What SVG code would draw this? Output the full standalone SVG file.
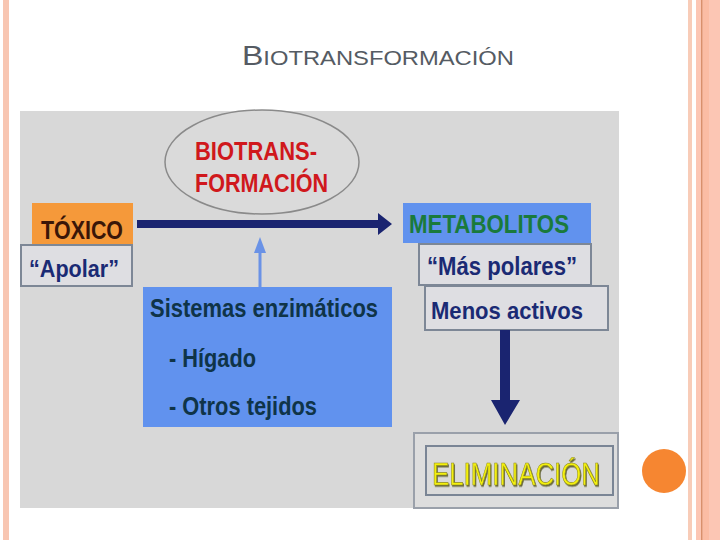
<svg xmlns="http://www.w3.org/2000/svg" width="720" height="540" viewBox="0 0 720 540">
<defs>
<style>
.t{font-family:"Liberation Sans",Arial,sans-serif;font-weight:bold}
.box{fill:#dedee2;stroke:#7d8796;stroke-width:2}
.blue{fill:#6192ee}
.navy{fill:#1a2470}
</style>
<filter id="shadow" x="-10%" y="-20%" width="120%" height="150%">
<feDropShadow dx="1" dy="1.5" stdDeviation="0.6" flood-color="#4a4a10" flood-opacity="0.8"/>
</filter>
</defs>
<rect width="720" height="540" fill="#ffffff"/>
<!-- slide borders -->
<rect x="3" y="0" width="6" height="540" fill="#f8c6b2"/>
<rect x="688" y="0" width="4" height="540" fill="#f8ccb8"/>
<rect x="696" y="0" width="24" height="540" fill="#fcc6b4"/>
<rect x="701" y="0" width="1.5" height="540" fill="#d9906c"/>
<rect x="703" y="0" width="6" height="540" fill="#fbbca4"/>
<!-- title -->
<text class="t" x="242" y="65" textLength="272" lengthAdjust="spacingAndGlyphs" style="font-weight:normal;fill:#555b63"><tspan font-size="27">B</tspan><tspan font-size="20">IOTRANSFORMACIÓN</tspan></text>
<!-- panel -->
<rect x="20" y="111" width="599" height="397" fill="#d8d8d8"/>
<circle cx="664" cy="471" r="22" fill="#f68631"/>

<g id="biotransformacion">
<ellipse cx="262" cy="162" rx="97" ry="52" fill="#dadada" stroke="#8a8a8a" stroke-width="1.5"/>
<text class="t" x="195" y="160" font-size="25" fill="#d0181c" textLength="122" lengthAdjust="spacingAndGlyphs">BIOTRANS-</text>
<text class="t" x="195" y="192" font-size="25" fill="#d0181c" textLength="133" lengthAdjust="spacingAndGlyphs">FORMACIÓN</text>
</g>

<g id="toxico">
<rect x="32" y="203" width="101" height="42" fill="#f5993a"/>
<text class="t" x="41" y="239" font-size="25" fill="#3a1608" textLength="82" lengthAdjust="spacingAndGlyphs">TÓXICO</text>
</g>
<g id="apolar">
<rect class="box" x="21" y="245" width="111" height="41"/>
<text class="t" x="29" y="277" font-size="24" fill="#1a2a74" textLength="90" lengthAdjust="spacingAndGlyphs">“Apolar”</text>
</g>

<g id="metabolitos">
<rect class="blue" x="403" y="203" width="188" height="40"/>
<text class="t" x="409" y="233" font-size="25" fill="#1a7a3c" textLength="160" lengthAdjust="spacingAndGlyphs">METABOLITOS</text>
</g>
<g id="mas-polares">
<rect class="box" x="419" y="244" width="172" height="41"/>
<text class="t" x="427" y="275" font-size="25" fill="#1a2a74" textLength="150" lengthAdjust="spacingAndGlyphs">“Más polares”</text>
</g>
<g id="menos-activos">
<rect class="box" x="425" y="286" width="183" height="44"/>
<text class="t" x="431" y="319" font-size="24" fill="#1a2a74" textLength="152" lengthAdjust="spacingAndGlyphs">Menos activos</text>
</g>

<g id="sistemas">
<rect class="blue" x="143" y="287" width="249" height="140"/>
<text class="t" x="150" y="317" font-size="25" fill="#0f3448" textLength="228" lengthAdjust="spacingAndGlyphs">Sistemas enzimáticos</text>
<text class="t" x="169" y="367" font-size="25" fill="#0f3448" textLength="87" lengthAdjust="spacingAndGlyphs">- Hígado</text>
<text class="t" x="169" y="415" font-size="25" fill="#0f3448" textLength="148" lengthAdjust="spacingAndGlyphs">- Otros tejidos</text>
</g>

<g id="eliminacion">
<rect x="414" y="433" width="204" height="75" fill="#dddddd" stroke="#9aa0aa" stroke-width="2"/>
<rect x="426" y="446" width="187" height="49" fill="#dadada" stroke="#7a8595" stroke-width="2"/>
<text class="t" x="432" y="485" font-size="32" fill="#f4f010" stroke="#8c8a20" stroke-width="0.6" textLength="168" lengthAdjust="spacingAndGlyphs" style="font-weight:normal" filter="url(#shadow)">ELIMINACIÓN</text>
</g>

<g id="connectors">
<path class="navy" d="M137,220 L378,220 L378,213 L392,224 L378,235 L378,228 L137,228 Z"/>
<path class="navy" d="M500,330 L510,330 L510,400 L520,400 L505,425 L491,400 L500,400 Z"/>
<path d="M260,287 L260,252" stroke="#6a92e6" stroke-width="3" fill="none"/>
<path d="M260,237 L266,253 L254,253 Z" fill="#6a92e6"/>
</g>
</svg>
